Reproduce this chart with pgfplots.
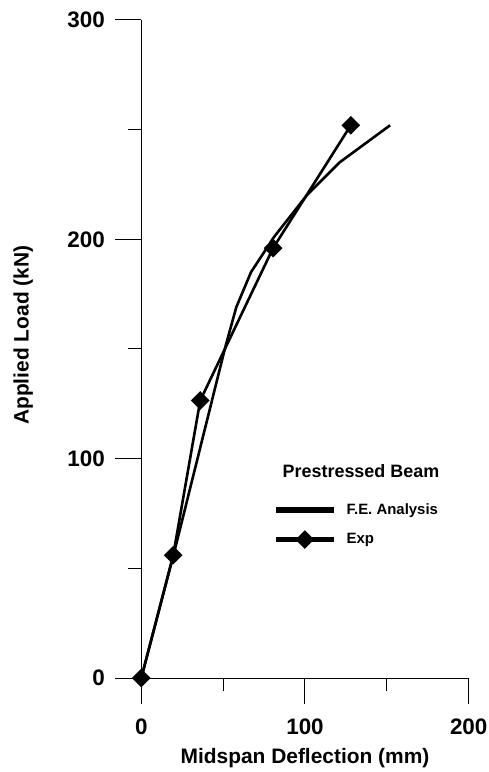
\documentclass[border=0pt]{standalone}
\usepackage{fontspec}
\setmainfont{Liberation Sans}
\usepackage{pgfplots}
\pgfplotsset{compat=1.18}
\begin{document}
\begin{tikzpicture}
\useasboundingbox (-141.3bp,-94bp) rectangle (347.7bp,678bp);
\begin{axis}[
  at={(0,0)}, anchor=south west,
  scale only axis, width=327.4bp, height=658bp,
  xmin=0, xmax=200, ymin=0, ymax=300,
  clip=false,
  axis x line=bottom, axis y line=left,
  axis line style={-, line width=1bp},
  xtick={0,100,200}, ytick={0,100,200,300},
  minor xtick={50,150}, minor ytick={50,150,250},
  tick align=outside, major tick length=26bp, minor tick length=13bp,
  every tick/.style={black, line width=1bp},
  /pgf/number format/assume math mode=true,
  tick label style={font=\bfseries\fontsize{22.5}{22.5}\selectfont},
  xticklabel style={yshift=-11bp},
  yticklabel style={xshift=-7bp},
  xlabel={Midspan Deflection (mm)},
  ylabel={Applied Load (kN)},
  label style={font=\bfseries\fontsize{21}{21}\selectfont},
  xlabel style={at={(axis description cs:0.5,-0.121)}, anchor=center},
  ylabel style={at={(axis description cs:-0.361,0.521)}, anchor=center, rotate=0},
  legend cell align=left,
  legend style={at={(axis cs:82.3,80.3)}, anchor=north west, draw=none, fill=none,
    inner sep=0pt, outer sep=0pt, row sep=13.5bp,
    font=\bfseries\fontsize{15}{15}\selectfont,
    nodes={inner sep=2bp}},
  legend image code/.code={%
    \fill[black] (0bp,-1.4bp) rectangle (55bp,1.4bp);
    \path[#1] plot coordinates {(27.5bp,0bp)};},
]
\addplot[black, line width=2.6bp, no markers] coordinates {
  (0,0) (20,57) (51,150) (58,169) (67,185) (81,201) (101,220) (121,235) (152,252)
};
\addlegendentry{\hspace{11bp}F.E. Analysis}
\addplot[black, line width=2.6bp, mark=square*, mark size=5.3bp, mark options={rotate=45, solid}] coordinates {
  (0,0) (19.5,56) (36,126.5) (80.5,196) (128,252)
};
\addlegendentry{\hspace{11bp}Exp}
\node[font=\bfseries\fontsize{18}{18}\selectfont, anchor=base] at (axis cs:134.2,91.4) {Prestressed Beam};
\end{axis}
\end{tikzpicture}
\end{document}
